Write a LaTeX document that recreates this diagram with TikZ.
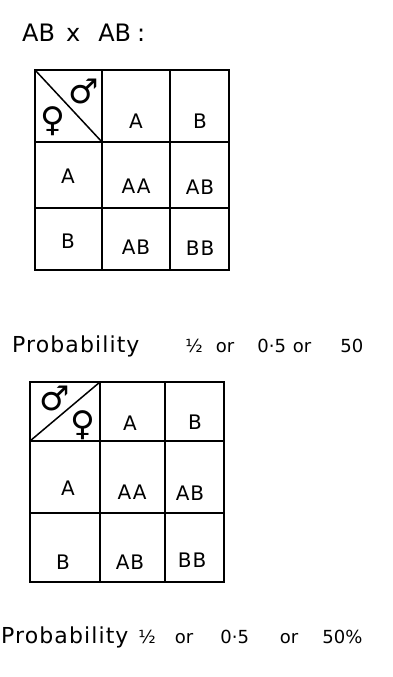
\documentclass[tikz,border=0pt]{standalone}
\usepackage{fontspec}
\setmainfont{DejaVu Sans}
\newfontfamily\handfont[LetterSpace=5]{DejaVu Sans}

\begin{document}
\begin{tikzpicture}[
  x=1pt, y=-1pt,
  grid/.style={draw, line width=1.5pt},
  entry/.style={inner sep=0pt, font=\fontsize{20}{22}\handfont},
  sex/.style={inner sep=0pt, font=\fontsize{34}{36}\selectfont},
  heading/.style={anchor=base west, inner sep=0pt}
]
\useasboundingbox (0,0) rectangle (393,677);

% cross heading
\node[heading, font=\fontsize{24}{28}\selectfont] (cross) at (22,42)
  {AB\hspace{11pt}x\hspace{18pt}AB\hspace{6pt}:};

% first square: male across, female down
\draw[grid] (35,70) rectangle (229,270);
\foreach \x in {102,170}
  \draw[grid] (\x,70) -- (\x,270);
\foreach \y in {142,208}
  \draw[grid] (35,\y) -- (229,\y);
\coordinate (tl1) at (35,70);
\coordinate (br1) at (102,142);
\draw[grid] (tl1) -- (br1);
\node[sex] (male1) at (84,91) {♂};
\node[sex] (female1) at (53,121) {♀};
\foreach \n/\x/\y/\t in {hA1/136/121/A, hB1/200/121/B,
                         rA1/68/176/A, rB1/68/241/B,
                         aa1/136/186/AA, ab1/200/187/AB,
                         ba1/136/247/AB, bb1/200/248/BB}
  \node[entry] (\n) at (\x,\y) {\t};

% first result
\node[heading] (prob1) at (12,352)
  {{\fontsize{22}{26}\handfont Probability}\hspace{46pt}%
   {\fontsize{18}{20}\selectfont ½\hspace{13pt}or\hspace{23pt}0·5%
    \hspace{7pt}or\hspace{29pt}50}};

% second square: male down, female across
\draw[grid] (30,382) rectangle (224,582);
\foreach \x in {100,165}
  \draw[grid] (\x,382) -- (\x,582);
\foreach \y in {441,513}
  \draw[grid] (30,\y) -- (224,\y);
\coordinate (bl2) at (30,441);
\coordinate (tr2) at (100,382);
\draw[grid] (bl2) -- (tr2);
\node[sex] (male2) at (55,398) {♂};
\node[sex] (female2) at (83,425) {♀};
\foreach \n/\x/\y/\t in {hA2/130/423/A, hB2/195/422/B,
                         rA2/68/488/A, rB2/63/562/B,
                         aa2/132/492/AA, ab2/190/493/AB,
                         ba2/130/562/AB, bb2/192/560/BB}
  \node[entry] (\n) at (\x,\y) {\t};

% second result
\node[heading] (prob2) at (1,643)
  {{\fontsize{22}{26}\handfont Probability}\hspace{10pt}%
   {\fontsize{18}{20}\selectfont ½\hspace{19pt}or\hspace{27pt}0·5%
    \hspace{31pt}or\hspace{24pt}50\%}};
\end{tikzpicture}
\end{document}
